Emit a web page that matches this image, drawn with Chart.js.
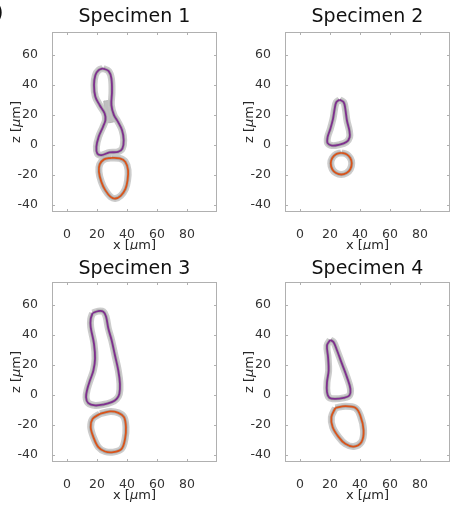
<!DOCTYPE html>
<html><head><meta charset="utf-8">
<script src="https://cdn.jsdelivr.net/npm/chart.js@4.4.0/dist/chart.umd.min.js"></script>
<style>
html,body{margin:0;padding:0;background:#fff;overflow:hidden;width:451px;height:506px;}
canvas{position:absolute;}
</style></head><body>
<canvas id="c1" width="225" height="250" style="left:0;top:0"></canvas>
<canvas id="c2" width="226" height="250" style="left:225px;top:0"></canvas>
<canvas id="c3" width="225" height="256" style="left:0;top:250px"></canvas>
<canvas id="c4" width="226" height="256" style="left:225px;top:250px"></canvas>
<script>
// ---- data (x, z in µm) ----
const titles = ['Specimen 1','Specimen 2','Specimen 3','Specimen 4'];
const xTicks = [0,20,40,60,80];
const zTicks = [-40,-20,0,20,40,60];
const xRange = [-10,100];
const zRange = [-45,75];

const s1Cell = [[24,50.7],[27.8,48.9],[29.6,44],[30,35.1],[29.6,26.2],[31.3,19.6],[34,15.1],[36.7,9.5],[37.8,2.9],[36.9,-2.7],[34,-4.9],[28.4,-5.3],[22.9,-7.1],[20.2,-6],[19.6,-1.6],[21.1,5.1],[24,11.8],[25.6,16.2],[25.1,20.7],[21.8,26.2],[18.9,31.8],[18,39.6],[18.9,46.2],[21.1,49.6]];
const s1Nucleus = [[29.6,-8.9],[35.1,-9.3],[38.9,-11.6],[40.7,-17.1],[40.4,-23.8],[38.9,-29.8],[35.8,-34.2],[32.2,-36],[29.1,-34.9],[25.5,-30.4],[22.9,-24.9],[21.3,-18.2],[21.8,-13.3],[24.7,-9.9]];
const s1Neck = [[24.5,29],[29.8,29],[30.5,23],[33.5,16.5],[28,14.5],[25.5,16],[25,22]];

const s2Cell = [[26.4,29.8],[29.1,28.2],[30.2,23.8],[31.3,16],[32.9,9.3],[33.1,4.9],[30.9,1.6],[25.8,-0.2],[21.3,-0.7],[18.4,0.9],[18.4,4.9],[20.2,10.4],[22,17.1],[23.1,23.8],[24.2,28.2]];
const s2Nucleus = [[27.5,-5.5],[31,-6.5],[33.5,-9],[34.5,-12.5],[33.5,-16.5],[31,-19],[27.5,-20],[24,-19],[21.5,-16.5],[20.5,-12.5],[21.5,-9],[24,-6.5]];

const s3Cell = [[17.1,54.3],[20.9,55.6],[24.2,55.2],[26,52],[27.6,43.8],[29.8,36],[32,26],[34.2,16],[35.3,7.1],[34.9,0.4],[33.1,-2.9],[29.8,-5.1],[24.2,-6.7],[18.7,-7.3],[14.2,-5.8],[12.7,-1.8],[13.6,3.8],[15.3,9.3],[17.6,16],[18.7,23.8],[18,33.8],[15.8,44.9],[15.8,50.4]];
const s3Nucleus = [[22,-12.9],[28.7,-11.3],[34.2,-12.2],[38,-15.1],[39.3,-21.8],[38.7,-29.6],[36.4,-36.2],[30.9,-38.4],[25.3,-38],[20.9,-35.1],[17.6,-28.4],[15.8,-21.8],[17.1,-16.2]];

const s4Cell = [[20.2,36.4],[22.4,34.9],[24.7,29.3],[28,20.4],[31.3,11.6],[33.6,3.8],[32.9,-0.7],[29.1,-2.2],[23.6,-2.9],[19.6,-2.2],[18,1.6],[18,8.2],[19.1,16],[18.7,24.9],[18,32.7]];
const s4Nucleus = [[23.6,-8.9],[30.2,-7.8],[36.9,-8.9],[40.2,-14],[42.4,-24],[40.9,-31.8],[35.8,-34.7],[30.2,-32.9],[25.8,-28.4],[21.8,-21.8],[20.9,-15.1]];

const panels = [
  {id:'c1', cell:s1Cell, nucleus:s1Nucleus, extra:s1Neck, boxLeft:52, boxTop:32, titleY:17, corner:true},
  {id:'c2', cell:s2Cell, nucleus:s2Nucleus, extra:null, boxLeft:60, boxTop:32, titleY:17},
  {id:'c3', cell:s3Cell, nucleus:s3Nucleus, extra:null, boxLeft:52, boxTop:32, titleY:19},
  {id:'c4', cell:s4Cell, nucleus:s4Nucleus, extra:null, boxLeft:60, boxTop:32, titleY:19}
];

const PURPLE = '#7E2F8E', ORANGE = '#D95319';
const closed = a => a.concat([a[0]]).map(([x,y]) => ({x, y}));

function drawMixed(ctx, parts, cx, cy){
  let total = 0;
  parts.forEach(p => { ctx.font = p[1] + ' 13px "DejaVu Sans"'; p.w = ctx.measureText(p[0]).width; total += p.w; });
  let x = cx - total/2;
  ctx.textAlign = 'left'; ctx.textBaseline = 'middle';
  parts.forEach(p => { ctx.font = p[1] + ' 13px "DejaVu Sans"'; ctx.fillText(p[0], x, cy); x += p.w; });
}

const framePlugin = {
  id: 'frame',
  afterDraw(chart){
    const o = chart.options.plugins.frame;
    const {ctx, chartArea: a, scales: {x, y}} = chart;
    ctx.save();
    ctx.strokeStyle = '#b0b0b0'; ctx.lineWidth = 1;
    ctx.strokeRect(Math.round(a.left)+0.5, Math.round(a.top)+0.5, Math.round(a.width)-1, Math.round(a.height)-1);
    ctx.beginPath();
    xTicks.forEach(v => { const p = Math.round(x.getPixelForValue(v))+0.5;
      ctx.moveTo(p, a.bottom); ctx.lineTo(p, a.bottom-3); ctx.moveTo(p, a.top); ctx.lineTo(p, a.top+3); });
    zTicks.forEach(v => { const p = Math.round(y.getPixelForValue(v))+0.5;
      ctx.moveTo(a.left, p); ctx.lineTo(a.left+3, p); ctx.moveTo(a.right, p); ctx.lineTo(a.right-3, p); });
    ctx.stroke();
    ctx.fillStyle = '#111';
    ctx.font = '19px "DejaVu Sans"'; ctx.textAlign = 'center'; ctx.textBaseline = 'middle';
    ctx.fillText(o.title, (a.left+a.right)/2, o.titleY);
    if (o.corner) { ctx.font = '22px "DejaVu Sans"'; ctx.textAlign = 'left'; ctx.fillText(')', -5, 13); }
    ctx.fillStyle = '#262626';
    drawMixed(ctx, [['x [','normal'],['\u03bc','italic'],['m]','normal']], (a.left+a.right)/2, a.bottom + 34);
    ctx.save();
    ctx.translate(a.left - 35, (a.top+a.bottom)/2);
    ctx.rotate(-Math.PI/2);
    drawMixed(ctx, [['z [','normal'],['\u03bc','italic'],['m]','normal']], 0, 0);
    ctx.restore();
    ctx.restore();
  }
};

panels.forEach((p, i) => {
  const canvas = document.getElementById(p.id);
  const W = canvas.width;
  const ds = [
    {data: closed(p.cell), borderColor: PURPLE, borderWidth: 1.8, order: 1},
    {data: closed(p.nucleus), borderColor: ORANGE, borderWidth: 1.8, order: 1},
    {data: closed(p.cell), borderColor: 'rgba(140,140,140,0.45)', borderWidth: 3.5, order: 2},
    {data: closed(p.nucleus), borderColor: 'rgba(140,140,140,0.45)', borderWidth: 3.5, order: 2},
    {data: closed(p.cell), borderColor: 'rgba(195,195,195,0.85)', borderWidth: 7, order: 3},
    {data: closed(p.nucleus), borderColor: 'rgba(195,195,195,0.85)', borderWidth: 7, order: 3}
  ];
  if (p.extra) ds.push({data: closed(p.extra), borderColor: 'rgba(175,175,175,0.8)', backgroundColor: 'rgba(175,175,175,0.8)', borderWidth: 1, fill: 'shape', tension: 0.3, order: 4});
  ds.forEach(d => { d.showLine = true; d.pointRadius = 0; if (d.tension === undefined) d.tension = 0.35; });
  new Chart(canvas, {
    type: 'scatter',
    data: {datasets: ds},
    options: {
      responsive: false, maintainAspectRatio: false, animation: false,
      layout: {padding: {left: 0, top: p.boxTop, right: W - p.boxLeft - 165, bottom: 0}},
      plugins: {legend: {display: false}, tooltip: {enabled: false},
        frame: {title: titles[i], titleY: p.titleY, corner: !!p.corner}},
      scales: {
        x: {type: 'linear', min: xRange[0], max: xRange[1],
          grid: {display: false}, border: {display: false},
          afterBuildTicks: s => { s.ticks = xTicks.map(v => ({value: v})); },
          afterFit: s => { s.height = canvas.height - p.boxTop - 180; },
          ticks: {padding: 7, color: '#333', font: {family: 'DejaVu Sans', size: 12.5}, maxRotation: 0}},
        y: {type: 'linear', min: zRange[0], max: zRange[1],
          grid: {display: false}, border: {display: false},
          afterBuildTicks: s => { s.ticks = zTicks.map(v => ({value: v})); },
          afterFit: s => { s.width = p.boxLeft; },
          ticks: {padding: 6, color: '#333', font: {family: 'DejaVu Sans', size: 12.5}}}
      }
    },
    plugins: [framePlugin]
  });
});
</script>
</body></html>
